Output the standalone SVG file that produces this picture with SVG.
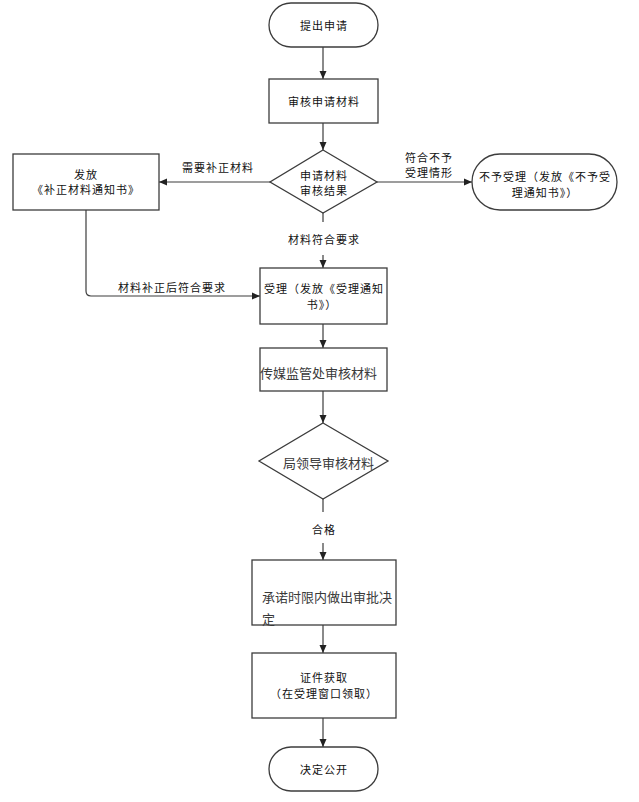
<svg xmlns="http://www.w3.org/2000/svg" width="639" height="802" viewBox="0 0 639 802">
<style>
.shape{fill:#ffffff;stroke:#3c3c3c;stroke-width:1.3}
.t{font-family:"Noto Sans CJK SC","Liberation Sans",sans-serif;font-size:11px;fill:#111;letter-spacing:1px;dominant-baseline:central}
.c{text-anchor:middle}
.g{font-family:"Noto Sans CJK SC","Liberation Sans",sans-serif;font-size:13px;fill:#3a3a3a;dominant-baseline:central}
.ln{fill:none;stroke:#3c3c3c;stroke-width:1.2}
</style>
<defs>
<marker id="arr" viewBox="0 0 8 8" refX="8" refY="4" markerWidth="8" markerHeight="8" markerUnits="userSpaceOnUse" orient="auto">
<path d="M0,0.5 L8,4 L0,7.5 z" fill="#222"/>
</marker>
</defs>
<rect width="639" height="802" fill="#ffffff"/>

<g id="connectors">
<line class="ln" x1="323" y1="47" x2="323" y2="79" marker-end="url(#arr)"/>
<line class="ln" x1="323" y1="123" x2="323" y2="150" marker-end="url(#arr)"/>
<line class="ln" x1="270" y1="182" x2="159" y2="182" marker-end="url(#arr)"/>
<line class="ln" x1="377" y1="182" x2="472" y2="182" marker-end="url(#arr)"/>
<line class="ln" x1="323" y1="213" x2="323" y2="222"/>
<line class="ln" x1="323" y1="255" x2="323" y2="268" marker-end="url(#arr)"/>
<path class="ln" d="M86,210 L86,291 Q86,296 91,296 L260,296" marker-end="url(#arr)"/>
<line class="ln" x1="323" y1="324" x2="323" y2="348" marker-end="url(#arr)"/>
<line class="ln" x1="323" y1="391" x2="323" y2="423" marker-end="url(#arr)"/>
<line class="ln" x1="323" y1="499" x2="323" y2="512"/>
<line class="ln" x1="323" y1="543" x2="323" y2="560" marker-end="url(#arr)"/>
<line class="ln" x1="323" y1="625" x2="323" y2="653" marker-end="url(#arr)"/>
<line class="ln" x1="323" y1="718" x2="323" y2="747" marker-end="url(#arr)"/>
<text class="t" x="182" y="167">需要补正材料</text>
<text class="t" x="405" y="157">符合不予</text>
<text class="t" x="405" y="172">受理情形</text>
<text class="t c" x="324" y="239">材料符合要求</text>
<text class="t" x="118" y="287">材料补正后符合要求</text>
<text class="t c" x="324" y="529">合格</text>
</g>

<g id="n-start">
<rect class="shape" x="269" y="3" width="109" height="44" rx="22"/>
<text class="t c" x="324" y="25">提出申请</text>
</g>

<g id="n-review">
<rect class="shape" x="269" y="79" width="109" height="44"/>
<text class="t c" x="324" y="101">审核申请材料</text>
</g>

<g id="n-decision1">
<polygon class="shape" points="323,150 377,182 323,213 270,182"/>
<text class="t c" x="324" y="175">申请材料</text>
<text class="t c" x="324" y="190">审核结果</text>
</g>

<g id="n-supplement">
<rect class="shape" x="13" y="154" width="146" height="56"/>
<text class="t c" x="86" y="174">发放</text>
<text class="t c" x="86" y="189">《补正材料通知书》</text>
</g>

<g id="n-reject">
<rect class="shape" x="472" y="154" width="145" height="56" rx="28"/>
<text class="t c" x="545" y="176">不予受理（发放《不予受</text>
<text class="t c" x="545" y="192">理通知书》）</text>
</g>

<g id="n-accept">
<rect class="shape" x="260" y="268" width="127" height="56"/>
<text class="t c" x="324" y="288">受理（发放《受理通知</text>
<text class="t c" x="322" y="304">书》）</text>
</g>

<g id="n-media">
<rect class="shape" x="260" y="348" width="127" height="43"/>
<text class="g" x="260" y="372">传媒监管处审核材料</text>
</g>

<g id="n-leader">
<polygon class="shape" points="323,423 388,461 323,499 259,461"/>
<text class="g" x="283" y="462">局领导审核材料</text>
</g>

<g id="n-approve">
<rect class="shape" x="252" y="560" width="144" height="65"/>
<text class="g" x="262" y="596">承诺时限内做出审批决</text>
<text class="g" x="262" y="618">定</text>
</g>

<g id="n-cert">
<rect class="shape" x="252" y="653" width="144" height="65"/>
<text class="t c" x="324" y="677">证件获取</text>
<text class="t c" x="324" y="693">（在受理窗口领取）</text>
</g>

<g id="n-end">
<rect class="shape" x="269" y="747" width="109" height="44" rx="22"/>
<text class="t c" x="324" y="769">决定公开</text>
</g>
</svg>
